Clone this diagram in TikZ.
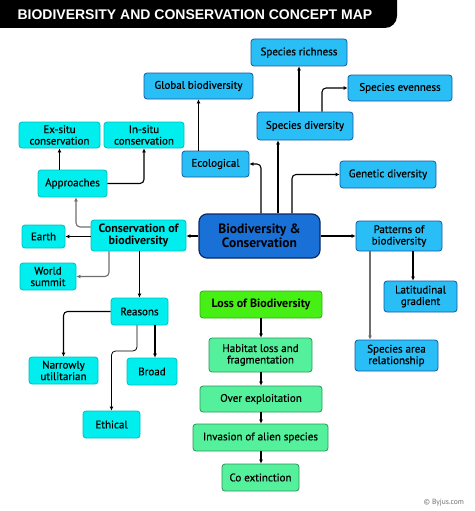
\documentclass[tikz,border=0pt]{standalone}
\usepackage{fontspec}
\setmainfont{PT Sans}
\newfontfamily\medfont{PT Sans}[FakeBold=0.6]
\newfontfamily\titlefont{Liberation Sans}
\usetikzlibrary{arrows.meta}
\definecolor{cyanF}{RGB}{0,238,238}
\definecolor{cyanB}{RGB}{0,190,190}
\definecolor{blueF}{RGB}{41,190,245}
\definecolor{blueB}{RGB}{20,90,160}
\definecolor{mainF}{RGB}{25,112,215}
\definecolor{mainB}{RGB}{10,40,100}
\definecolor{lossF}{RGB}{70,240,20}
\definecolor{lossB}{RGB}{50,170,20}
\definecolor{grF}{RGB}{85,240,155}
\definecolor{grB}{RGB}{40,150,90}
\definecolor{lineG}{RGB}{110,110,110}
\tikzset{
  box/.style={draw, line width=0.8pt, rounded corners=3pt, inner sep=0pt, align=center,
    font=\medfont\fontsize{11}{11.5}\selectfont, text=black},
  cbox/.style={box, fill=cyanF, draw=cyanB},
  bbox/.style={box, fill=blueF, draw=blueB},
  gbox/.style={box, fill=grF, draw=grB},
  arr/.style={draw=black, line width=1.1pt, -{Latex[length=4pt,width=4pt]}, rounded corners=4pt},
  garr/.style={arr, draw=lineG},
}
\begin{document}
\begin{tikzpicture}[x=1pt,y=-1pt]
\useasboundingbox (0,0) rectangle (474,511);
% title bar
\fill[black] (0,0) -- (397,0) [rounded corners=12pt] -- (397,28) [sharp corners] -- (0,28) -- cycle;
\node[text=white, font=\titlefont\bfseries\fontsize{14}{15}\selectfont, anchor=west] (title) at (14,14.5) {BIODIVERSITY AND CONSERVATION CONCEPT MAP};

% nodes
\node[bbox, minimum width=96pt, minimum height=27pt] (sr) at (299,52.5) {Species richness};
\node[bbox, minimum width=109pt, minimum height=26pt] (gb) at (198.5,86) {Global biodiversity};
\node[bbox, minimum width=104pt, minimum height=26pt] (se) at (400,88) {Species evenness};
\node[bbox, minimum width=96pt, minimum height=28pt] (sd) at (305,126) {Species diversity};
\node[cbox, minimum width=81pt, minimum height=26pt] (ex) at (59.5,135) {Ex-situ\\conservation};
\node[cbox, minimum width=80pt, minimum height=26pt] (ins) at (144,135) {In-situ\\conservation};
\node[cbox, minimum width=69pt, minimum height=27pt] (ap) at (72.5,183.5) {Approaches};
\node[bbox, minimum width=67pt, minimum height=26pt] (eco) at (215.5,164) {Ecological};
\node[cbox, minimum width=43pt, minimum height=23pt] (earth) at (43.5,236.5) {Earth};
\node[cbox, minimum width=95pt, minimum height=31pt, font=\bfseries\fontsize{12}{12.5}\selectfont] (cons) at (138.5,235.5) {Conservation of\\biodiversity};
\node[cbox, minimum width=56pt, minimum height=27pt] (ws) at (48,276.5) {World\\summit};
\node[box, fill=mainF, draw=mainB, line width=1.2pt, rounded corners=8pt, minimum width=121pt, minimum height=44pt, font=\bfseries\fontsize{13.5}{14}\selectfont] (main) at (259.5,236) {Biodiversity \&\\Conservation};
\node[bbox, minimum width=96pt, minimum height=27pt] (gen) at (388,174.5) {Genetic diversity};
\node[bbox, minimum width=86pt, minimum height=30pt] (pat) at (399,236) {Patterns of\\biodiversity};
\node[bbox, minimum width=73pt, minimum height=31pt] (lat) at (420.5,296.5) {Latitudinal\\gradient};
\node[bbox, minimum width=83pt, minimum height=31pt] (sar) at (396.5,355.5) {Species area\\relationship};
\node[cbox, minimum width=57pt, minimum height=27pt] (rea) at (139.5,311.5) {Reasons};
\node[cbox, minimum width=69pt, minimum height=27pt] (nar) at (63.5,370.5) {Narrowly\\utilitarian};
\node[cbox, minimum width=50pt, minimum height=27pt] (broad) at (152,371.5) {Broad};
\node[cbox, minimum width=57pt, minimum height=27pt] (eth) at (111.5,424.5) {Ethical};
\node[box, fill=lossF, draw=lossB, minimum width=122pt, minimum height=27pt, font=\bfseries\fontsize{12}{12.5}\selectfont] (loss) at (261,304.5) {Loss of Biodiversity};
\node[gbox, minimum width=103pt, minimum height=34pt] (hab) at (260.5,355) {Habitat loss and\\fragmentation};
\node[gbox, minimum width=122pt, minimum height=26pt] (over) at (261,399) {Over exploitation};
\node[gbox, minimum width=135pt, minimum height=27pt] (inv) at (260.5,437.5) {Invasion of alien species};
\node[gbox, minimum width=77pt, minimum height=27pt] (co) at (260.5,477.5) {Co extinction};
\node[text=lineG, font=\fontsize{7.5}{8}\selectfont] (copy) at (444,503) {\textcopyright\ Byjus.com};

% connectors
\draw[arr] (main.west) -- (cons.east |- main.west);
\draw[arr] (cons.west |- earth) -- (earth.east);
\draw[garr] ([xshift=-29.5pt]cons.south) |- (ws.east);
\draw[garr] ([yshift=8.5pt]cons.west) -| ([xshift=3.5pt]ap.south);
\draw[arr] (ex.south |- ap.north) -- (ex.south);
\draw[arr] (ap.east) -| (ins.south);
\draw[arr] (rea.north |- cons.south) -- (rea.north);
\draw[arr] (rea.west) -| (nar.north);
\draw[arr] ([xshift=3pt]broad.north |- rea.south) -- ([xshift=3pt]broad.north);
\coordinate (ethbend) at (137,351);
\draw[arr, line width=0.8pt] (ethbend |- rea.south) -- (ethbend) -| (eth.north);
\draw[arr] ([xshift=1.5pt]main.north) |- (eco.east);
\draw[arr] (gb.south |- eco.north) -- (gb.south);
\draw[arr] ([xshift=18.5pt]main.north) -- ([xshift=18.5pt]main.north |- sd.south);
\draw[arr] (sr.south |- sd.north) -- (sr.south);
\draw[arr] ([xshift=17pt]sd.north) |- (se.west);
\draw[arr] ([xshift=32.5pt]main.north) |- (gen.west);
\draw[arr] (main.east) -- (pat.west |- main.east);
\draw[arr] ([xshift=-7.5pt]lat.north |- pat.south) -- ([xshift=-7.5pt]lat.north);
\draw[garr] ([xshift=-29pt]pat.south) -- ([xshift=-29pt]pat.south |- sar.north);
\draw[arr] (loss.south) -- (loss.south |- hab.north);
\draw[arr] (loss.south |- hab.south) -- (loss.south |- over.north);
\draw[arr] (loss.south |- over.south) -- (loss.south |- inv.north);
\draw[arr] (loss.south |- inv.south) -- (loss.south |- co.north);
\end{tikzpicture}
\end{document}
